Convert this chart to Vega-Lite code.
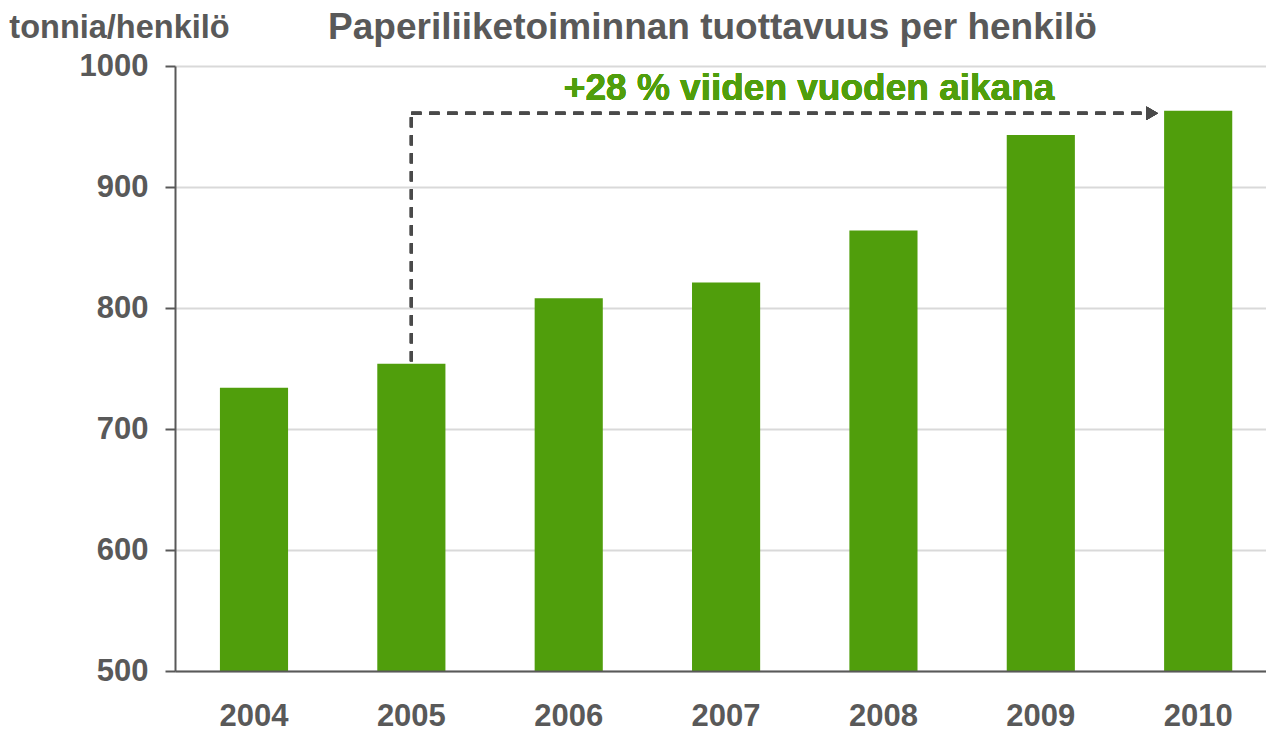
{
  "$schema": "https://vega.github.io/schema/vega-lite/v6.json",
  "width": 1091,
  "height": 605,
  "autosize": {"type": "none"},
  "padding": {"left": 175, "top": 66, "right": 0, "bottom": 63},
  "background": "white",
  "config": {
    "view": {"stroke": null},
    "font": "Liberation Sans"
  },
  "title": {
    "text": "Paperiliiketoiminnan tuottavuus per henkilö",
    "fontSize": 37,
    "fontWeight": "bold",
    "color": "#595959",
    "anchor": "middle",
    "frame": "group",
    "baseline": "alphabetic",
    "offset": -65,
    "dx": -8
  },
  "data": {
    "values": [
      {"vuosi": "2004", "tuottavuus": 734},
      {"vuosi": "2005", "tuottavuus": 754},
      {"vuosi": "2006", "tuottavuus": 808},
      {"vuosi": "2007", "tuottavuus": 821},
      {"vuosi": "2008", "tuottavuus": 864},
      {"vuosi": "2009", "tuottavuus": 943},
      {"vuosi": "2010", "tuottavuus": 963}
    ]
  },
  "encoding": {
    "x": {
      "field": "vuosi",
      "type": "ordinal",
      "scale": {"paddingInner": 0.567, "paddingOuter": 0.25, "align": 0.571},
      "axis": {
        "title": null,
        "labelAngle": 0,
        "labelFontSize": 31,
        "labelFontWeight": "bold",
        "labelColor": "#595959",
        "labelPadding": 30,
        "ticks": false,
        "domainColor": "#595959",
        "domainWidth": 2,
        "grid": false,
        "zindex": 1
      }
    },
    "y": {
      "field": "tuottavuus",
      "type": "quantitative",
      "scale": {"domain": [500, 1000], "nice": false, "zero": false},
      "axis": {
        "values": [500, 600, 700, 800, 900, 1000],
        "format": "d",
        "title": "tonnia/henkilö",
        "titleAngle": 0,
        "titleAlign": "center",
        "titleBaseline": "alphabetic",
        "titleX": -56,
        "titleY": -29,
        "titleFontSize": 32.5,
        "titleFontWeight": "bold",
        "titleColor": "#595959",
        "labelFontSize": 31,
        "labelFontWeight": "bold",
        "labelColor": "#595959",
        "labelPadding": 17,
        "tickSize": 10,
        "tickColor": "#595959",
        "tickWidth": 2,
        "domainColor": "#595959",
        "domainWidth": 2,
        "gridColor": "#d9d9d9",
        "gridWidth": 2,
        "zindex": 0
      }
    }
  },
  "layer": [
    {
      "mark": {"type": "rule", "color": "#4a4a4a", "strokeWidth": 3, "strokeDash": [10, 8]},
      "encoding": {
        "x": {"datum": "2005"},
        "y": {"datum": 756},
        "y2": {"datum": 961}
      }
    },
    {
      "mark": {"type": "rule", "color": "#4a4a4a", "strokeWidth": 3, "strokeDash": [10, 8], "x2Offset": -50},
      "encoding": {
        "x": {"datum": "2005"},
        "x2": {"datum": "2010"},
        "y": {"datum": 961}
      }
    },
    {
      "mark": {"type": "point", "shape": "triangle-right", "filled": true, "color": "#4a4a4a", "opacity": 1, "size": 180, "xOffset": -46},
      "encoding": {
        "x": {"datum": "2010"},
        "y": {"datum": 961}
      }
    },
    {
      "mark": {"type": "bar", "color": "#509E0C"},
      "encoding": {
        "y2": {"datum": 500}
      }
    },
    {
      "mark": {"type": "text", "text": "+28 % viiden vuoden aikana", "fontSize": 37, "fontWeight": "bold", "color": "#509E0C", "baseline": "alphabetic", "align": "center", "dx": 83},
      "encoding": {
        "x": {"datum": "2007"},
        "y": {"datum": 972}
      }
    },
    {
      "data": {"values": [{"raja": "2004"}, {"raja": "2008"}]},
      "mark": {"type": "rule", "color": "#595959", "strokeWidth": 2},
      "encoding": {
        "x": {"field": "raja", "type": "ordinal", "bandPosition": -0.655},
        "y": {"datum": 500},
        "y2": {"datum": 490}
      }
    }
  ]
}
